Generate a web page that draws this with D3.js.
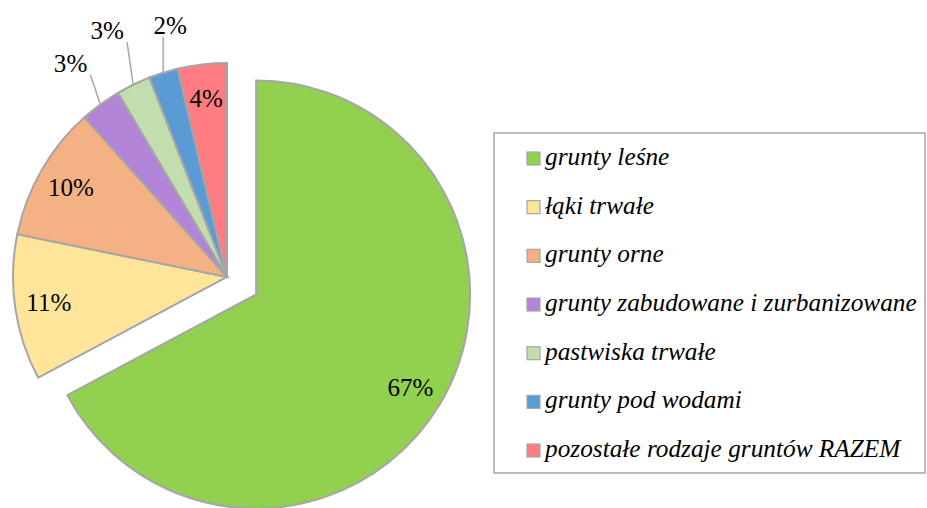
<!DOCTYPE html>
<html>
<head>
<meta charset="utf-8">
<script src="https://cdn.jsdelivr.net/npm/d3@7"></script>
<style>
  html, body { margin: 0; padding: 0; background: #fff; }
  svg { display: block; }
</style>
</head>
<body>
<svg id="chart"></svg>
<script>
// data (share of area, %)
const categories = [
  "grunty leśne",
  "łąki trwałe",
  "grunty orne",
  "grunty zabudowane i zurbanizowane",
  "pastwiska trwałe",
  "grunty pod wodami",
  "pozostałe rodzaje gruntów RAZEM"
];
const values = [67.2, 11.0, 10.2, 3.1, 2.6, 2.2, 3.7];
const labels = ["67%", "11%", "10%", "3%", "3%", "2%", "4%"];
const colors = ["#92D050", "#FFE59A", "#F4B183", "#B385D8", "#C2DEAE", "#5B9BD5", "#FF7C80"];

const width = 927, height = 508;
const cx = 227, cy = 277, R = 214;
const explodeIndex = 0, explodeDist = 34;
const labelR = 180;
// outside labels: which slices, and how far out (Excel nudged the blue one)
const outside = { 3: { r: 265, da: 0 }, 4: { r: 274, da: 0 }, 5: { r: 258, da: 0.08 } };

const svg = d3.select("#chart").attr("width", width).attr("height", height);
svg.append("rect").attr("width", width).attr("height", height).attr("fill", "#fff");

const serif = "'Liberation Serif', 'DejaVu Serif', serif";

// fit a font size so that a probe string has the width seen in the picture
function fitSize(str, targetW, italic) {
  const t = svg.append("text")
    .attr("font-family", serif)
    .attr("font-style", italic ? "italic" : "normal")
    .attr("font-size", 20)
    .text(str);
  const w = t.node().getComputedTextLength();
  t.remove();
  return 20 * targetW / w;
}
const labelSize = fitSize("67%", 46, false);
const legendSize = fitSize(categories[3], 372, true);

const pie = d3.pie().sort(null).value(d => d).startAngle(0).endAngle(2 * Math.PI);
const arcs = pie(values);
const arc = d3.arc().innerRadius(0).outerRadius(R);

function offsetOf(i) {
  if (i !== explodeIndex) return [0, 0];
  const a = (arcs[i].startAngle + arcs[i].endAngle) / 2;
  return [explodeDist * Math.sin(a), -explodeDist * Math.cos(a)];
}
function polar(a, r) { return [r * Math.sin(a), -r * Math.cos(a)]; }

const g = svg.append("g").attr("transform", `translate(${cx},${cy})`);

// slices
g.selectAll("path.slice")
  .data(arcs)
  .join("path")
  .attr("class", "slice")
  .attr("transform", (d, i) => `translate(${offsetOf(i)})`)
  .attr("d", arc)
  .attr("fill", (d, i) => colors[i])
  .attr("stroke", "#A6A6A6")
  .attr("stroke-width", 2)
  .attr("stroke-linejoin", "miter");

// labels
arcs.forEach((d, i) => {
  const mid = (d.startAngle + d.endAngle) / 2;
  const off = offsetOf(i);
  const o = outside[i];
  let p = o ? polar(mid + o.da, o.r) : polar(mid, labelR);
  p = [p[0] + off[0], p[1] + off[1]];
  const t = g.append("text")
    .attr("x", p[0]).attr("y", p[1])
    .attr("dy", "0.34em")
    .attr("text-anchor", "middle")
    .attr("font-family", serif)
    .attr("font-size", labelSize)
    .attr("fill", "#000")
    .text(labels[i]);
  if (o) {
    // leader line from slice edge to nearest point of the label box
    const bb = t.node().getBBox();
    const e = polar(mid, R + 1);
    const gap = 3;
    const x0 = bb.x - gap, x1 = bb.x + bb.width + gap;
    const y0 = bb.y + 5 - gap, y1 = bb.y + bb.height - 5 + gap;
    const ex = Math.max(x0, Math.min(x1, e[0]));
    const ey = Math.max(y0, Math.min(y1, e[1]));
    g.append("line")
      .attr("x1", e[0]).attr("y1", e[1])
      .attr("x2", ex).attr("y2", ey)
      .attr("stroke", "#A6A6A6").attr("stroke-width", 1.5);
  }
});

// legend
const legX = 494, legY = 133, legW = 431, legH = 340;
const legend = svg.append("g");
legend.append("rect")
  .attr("x", legX).attr("y", legY)
  .attr("width", legW).attr("height", legH)
  .attr("fill", "#fff")
  .attr("stroke", "#A6A6A6").attr("stroke-width", 1.5);

const rowY = d3.scalePoint().domain(categories).range([158, 450]);
const rows = legend.selectAll("g.row")
  .data(categories)
  .join("g")
  .attr("class", "row")
  .attr("transform", d => `translate(0,${rowY(d)})`);

rows.append("rect")
  .attr("x", 527).attr("y", -6)
  .attr("width", 13).attr("height", 13)
  .attr("fill", (d, i) => colors[i])
  .attr("stroke", "#A6A6A6").attr("stroke-width", 1.2);

rows.append("text")
  .attr("x", 545).attr("y", 7)
  .attr("font-family", serif)
  .attr("font-style", "italic")
  .attr("font-size", legendSize)
  .attr("fill", "#000")
  .text(d => d);
</script>
</body>
</html>
